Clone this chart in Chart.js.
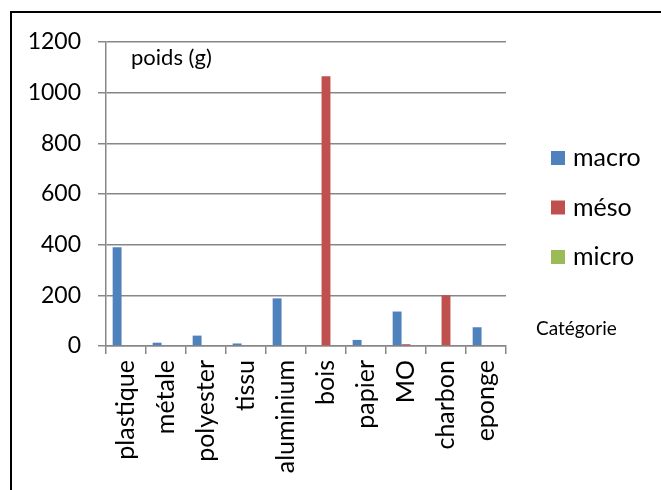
<!DOCTYPE html>
<html>
<head>
<meta charset="utf-8">
<script src="https://cdn.jsdelivr.net/npm/chart.js@4"></script>
<style>
  body { margin: 0; background: #fff; overflow: hidden; }
  #wrap { position: relative; width: 661px; height: 490px; }
  #frame { position: absolute; left: 10px; top: 11px; width: 700px; height: 540px; border: 2px solid #000; pointer-events: none; }
</style>
</head>
<body>
<div id="wrap">
  <canvas id="myChart" width="661" height="490"></canvas>
  <div id="frame"></div>
</div>
<script>
const categories = ['plastique', 'métale', 'polyester', 'tissu', 'aluminium', 'bois', 'papier', 'MO', 'charbon', 'eponge']
const macro = [390, 13, 41, 10, 188, 0, 24, 136, 0, 74]
const meso = [0, 0, 0, 0, 0, 1065, 0, 7, 200, 0]
const micro = [0, 0, 0, 0, 0, 0, 0, 0, 0, 0]
const yTicks = [0, 200, 400, 600, 800, 1000, 1200]

const FONT = 'Lato, "Open Sans", sans-serif'
const gridGray = '#878787'

const myChart = document.getElementById('myChart').getContext('2d')

// legend + text labels drawn by hand, Excel style
const extras = {
    id: 'extras',
    afterDraw(chart) {
        const ctx = chart.ctx
        const area = chart.chartArea
        ctx.save()
        chart.data.datasets.forEach((ds, i) => {
            const y = area.top + 109 + i * 49.5
            ctx.fillStyle = ds.backgroundColor
            ctx.fillRect(area.right + 45, y, 14, 14)
            ctx.fillStyle = '#000'
            ctx.font = '25px ' + FONT
            ctx.textBaseline = 'middle'
            ctx.fillText(ds.label, area.right + 67, y + 7)
        })
        ctx.textBaseline = 'alphabetic'
        ctx.font = '22px ' + FONT
        ctx.fillText('poids (g)', area.left + 25, area.top + 23)
        ctx.font = '19px ' + FONT
        ctx.fillText('Catégorie', area.right + 30, area.top + 293)
        ctx.restore()
    }
}

new Chart(myChart, {
    type: 'bar',
    data: {
        labels: categories,
        datasets: [
            { label: 'macro', data: macro, backgroundColor: '#4F81BD' },
            { label: 'méso', data: meso, backgroundColor: '#C0504D' },
            { label: 'micro', data: micro, backgroundColor: '#9BBB59' }
        ]
    },
    options: {
        responsive: false,
        animation: false,
        devicePixelRatio: 1,
        categoryPercentage: 3 / 4.5,
        barPercentage: 1,
        layout: { padding: { left: 0, top: 42, right: 155, bottom: 0 } },
        plugins: {
            legend: { display: false },
            tooltip: { enabled: false }
        },
        scales: {
            x: {
                grid: { offset: true, drawOnChartArea: false, color: gridGray, lineWidth: 1.5, tickLength: 8 },
                border: { color: gridGray, width: 1.5 },
                ticks: { color: '#000', font: { family: FONT, size: 25 }, minRotation: 90, maxRotation: 90, padding: 6, autoSkip: false },
                afterFit(scale) { scale.height = 144 }
            },
            y: {
                min: 0,
                max: 1200,
                afterBuildTicks(scale) { scale.ticks = yTicks.map(v => ({ value: v })) },
                grid: { color: gridGray, lineWidth: 1.5, tickLength: 8 },
                border: { color: gridGray, width: 1.5 },
                ticks: { color: '#000', font: { family: FONT, size: 23 }, padding: 17, callback: v => String(v) },
                afterFit(scale) { scale.width = 106 }
            }
        }
    },
    plugins: [extras]
})
</script>
</body>
</html>
